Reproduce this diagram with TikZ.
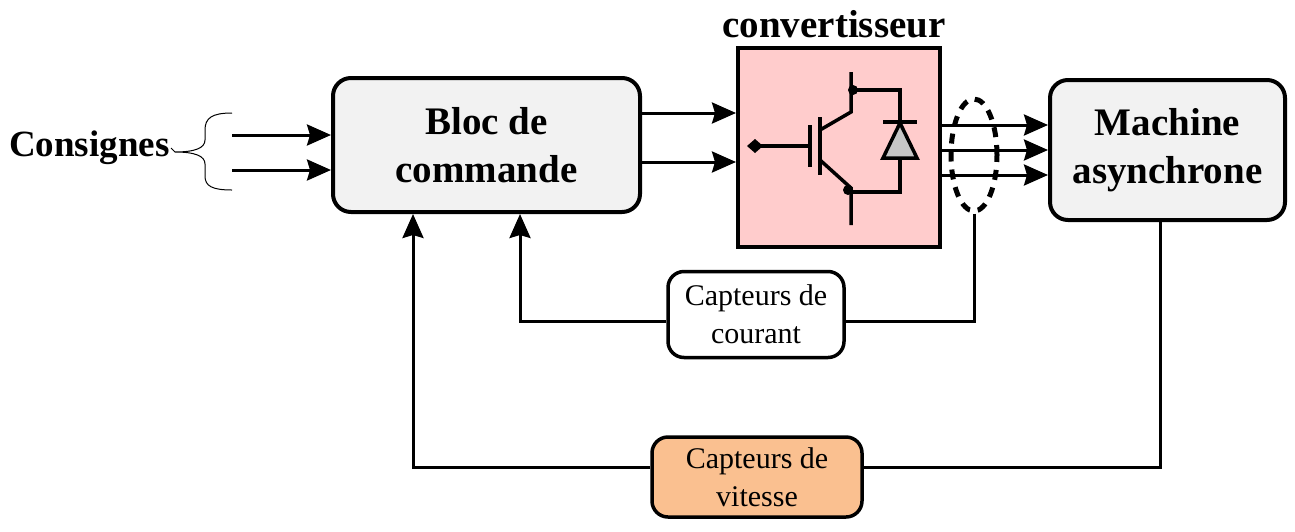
\documentclass[tikz,border=0pt]{standalone}
\usepackage{fontspec}
\setmainfont{Liberation Serif}
\usetikzlibrary{shapes,shapes.geometric,arrows.meta,calc,positioning}
\definecolor{convpink}{RGB}{255,204,204}
\definecolor{vitorange}{RGB}{250,192,144}
\tikzset{blk/.style={draw, rectangle, rounded corners=18pt, line width=4pt, fill=gray!10, align=center, font=\bfseries\fontsize{39}{48}\selectfont, inner sep=0pt}}
\tikzstyle{cpt}=[draw, rectangle, rounded corners=16pt, line width=3.5pt, fill=white, align=center, font=\fontsize{30}{38}\selectfont, inner sep=0pt]

\begin{document}
\begin{tikzpicture}[x=1pt, y=-1pt, >={Stealth[length=24pt,width=21pt,inset=3pt]}, line width=3pt]
\useasboundingbox (0,0) rectangle (1295,531);
\node[blk, minimum width=307pt, minimum height=134pt] (bloc) at (486.5,145) {Bloc de\\commande};
\node[draw, rectangle, line width=4pt, fill=convpink, minimum width=202pt, minimum height=199pt, inner sep=0pt] (conv) at (839,147.5) {};
\node[font=\bfseries\fontsize{39}{48}\selectfont, inner sep=0pt, anchor=base] (convt) at (834,37) {convertisseur};
\node[blk, minimum width=235pt, minimum height=140pt] (mas) at (1167.5,150) {Machine\\asynchrone};
\node[cpt, minimum width=176pt, minimum height=86pt] (cc) at (756,314.5) {Capteurs de\\courant};
\node[cpt, fill=vitorange, minimum width=210pt, minimum height=80pt] (cv) at (757,477) {Capteurs de\\vitesse};
\node[font=\bfseries\fontsize{37}{48}\selectfont, anchor=east, inner sep=0pt] (cons) at (171,148) {Consignes};
\node[draw, ellipse, dash pattern=on 10pt off 8pt, line width=5pt, minimum width=46pt, minimum height=112pt, inner sep=0pt] (ell) at (974,155) {};
\coordinate (tip) at (175,152);
\draw[line width=1pt] (cons.east) -- (tip);
\draw[line width=1pt] (232,113) .. controls (212,113) and (205,118) .. (205,130) -- (205,140) .. controls (205,148) and (195,152) .. (tip) .. controls (195,152) and (205,156) .. (205,164) -- (205,176) .. controls (205,186) and (212,190) .. (232,190);
\foreach \y [count=\i] in {135,170} {
  \coordinate (in\i) at (232,\y);
  \draw[->] (in\i) -- (bloc.west |- in\i);
}
\foreach \y in {113,162}
  \draw[->] (bloc.east |- 0,\y) -- (conv.west |- 0,\y);
\foreach \y in {125,150,175}
  \draw[->] (conv.east |- 0,\y) -- (mas.west |- 0,\y);
\draw (ell.south) |- ($(cc.east)+(0,7)$);
\draw[->] ($(cc.west)+(0,7)$) -| (bloc.south -| 520,0);
\draw (mas.south -| 1160,0) |- ($(cv.east)+(0,-10)$);
\draw[->] ($(cv.west)+(0,-10)$) -| (bloc.south -| 413,0);
\begin{scope}[line width=3.5pt]
\draw (755,146) -- (810,146);
\draw (810,125) -- (810,167);
\draw (820,117) -- (820,175);
\draw (820,130) -- (851,112) -- (851,72);
\draw (820,160) -- (851,188) -- (851,225);
\draw (851,90) -- (900,90) -- (900,192) -- (851,192);
\draw[fill=gray!45, line join=miter] (900,123) -- (883,158) -- (917,158) -- cycle;
\draw (883,122) -- (917,122);
\fill (853,90) circle (5);
\fill (848,190) circle (5);
\fill (747,146) -- (755,139) -- (763,146) -- (755,153) -- cycle;
\end{scope}
\end{tikzpicture}
\end{document}
